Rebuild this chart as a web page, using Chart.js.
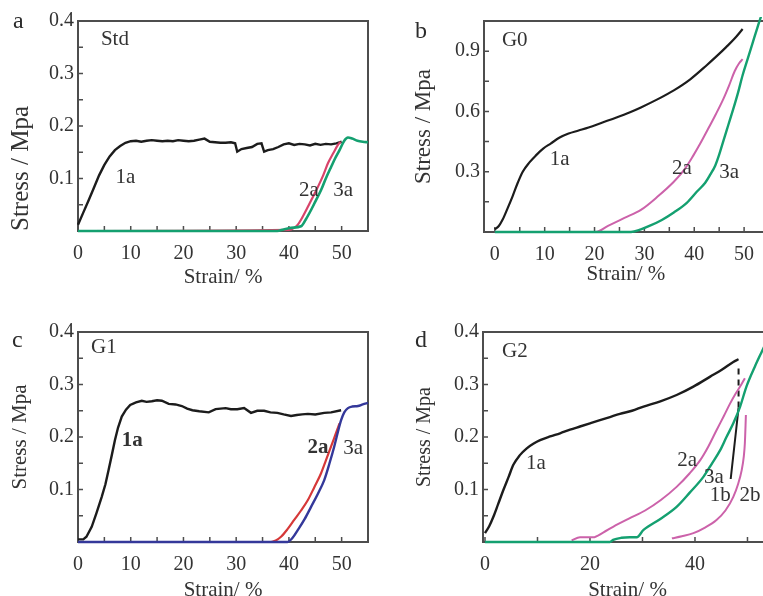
<!DOCTYPE html>
<html>
<head>
<meta charset="utf-8">
<script src="https://cdn.jsdelivr.net/npm/chart.js@4.4.1/dist/chart.umd.min.js"></script>
<style>
  html, body { margin: 0; padding: 0; width: 763px; height: 596px; overflow: hidden; background: #fff; }
  canvas { position: absolute; }
  .tag { position: absolute; font: 24px "Liberation Serif", serif; line-height: 24px; color: #2b2b2b; }
</style>
</head>
<body>
<canvas id="chartA" width="380" height="300" style="left:0;top:0"></canvas>
<canvas id="chartB" width="400" height="300" style="left:380px;top:0"></canvas>
<canvas id="chartC" width="380" height="300" style="left:0;top:311px"></canvas>
<canvas id="chartD" width="400" height="300" style="left:380px;top:311px"></canvas>
<div class="tag" style="left:13px;top:8px">a</div>
<div class="tag" style="left:415px;top:18px">b</div>
<div class="tag" style="left:12px;top:327px">c</div>
<div class="tag" style="left:415px;top:327px">d</div>
<script>
// ---- panel a : Std ----
const strainA1 = [0, 1, 2, 3, 4, 5, 6, 7, 8, 9, 10, 11, 12, 13, 14, 15, 16, 17, 18, 19, 20, 21, 22, 23, 24, 25, 26, 27, 28, 29, 29.8, 30.2, 31, 32, 33, 34, 34.8, 35.3, 36, 37, 38, 39, 40, 41, 42, 43, 44, 45, 46, 47, 48, 49, 50];
const stressA1 = [0.012, 0.035, 0.058, 0.082, 0.106, 0.126, 0.142, 0.154, 0.162, 0.168, 0.171, 0.172, 0.170, 0.172, 0.173, 0.172, 0.171, 0.172, 0.171, 0.173, 0.172, 0.171, 0.172, 0.174, 0.176, 0.170, 0.169, 0.168, 0.168, 0.169, 0.167, 0.151, 0.156, 0.158, 0.160, 0.166, 0.167, 0.151, 0.154, 0.156, 0.160, 0.165, 0.167, 0.164, 0.166, 0.165, 0.163, 0.166, 0.164, 0.166, 0.165, 0.167, 0.170];
const strainA2 = [0, 40, 41, 41.6, 42.5, 43.6, 44.5, 45.5, 46.5, 47.4, 48.4, 49.3, 49.8];
const stressA2 = [0, 0.002, 0.006, 0.011, 0.025, 0.046, 0.064, 0.084, 0.106, 0.129, 0.148, 0.164, 0.170];
const strainA3 = [0, 37.8, 39, 40.4, 42.3, 43.2, 44.2, 45.1, 46.1, 47, 48, 48.8, 49.6, 50.5, 51.2, 52, 53, 54, 55];
const stressA3 = [0, 0, 0.003, 0.006, 0.009, 0.022, 0.04, 0.058, 0.078, 0.1, 0.122, 0.139, 0.154, 0.172, 0.178, 0.176, 0.172, 0.170, 0.169];

// ---- panel b : G0 ----
const strainB1 = [0, 0.8, 1.6, 2.6, 3.6, 4.6, 5.6, 6.9, 8.2, 9.7, 11.2, 13, 14.8, 16.8, 18.8, 21.6, 24.4, 27, 29.3, 32.6, 35.9, 39.2, 42.5, 44.5, 46.4, 48, 49.7];
const stressB1 = [0.013, 0.03, 0.063, 0.12, 0.18, 0.245, 0.30, 0.345, 0.38, 0.415, 0.44, 0.47, 0.49, 0.505, 0.52, 0.545, 0.57, 0.595, 0.62, 0.66, 0.705, 0.76, 0.83, 0.875, 0.92, 0.96, 1.01];
const strainB2 = [0, 20.2, 22.7, 26, 29.3, 32.6, 35.9, 38, 39.8, 41.2, 42.5, 44.2, 45.8, 47, 48.1, 49, 49.7];
const stressB2 = [0, 0, 0.03, 0.07, 0.11, 0.175, 0.25, 0.31, 0.38, 0.44, 0.50, 0.58, 0.66, 0.73, 0.80, 0.84, 0.86];
const strainB3 = [0, 27.3, 29.3, 31, 33.5, 35.9, 38.5, 40.5, 42.2, 43.2, 44.2, 45, 45.8, 46.8, 47.8, 48.8, 49.7, 50.7, 51.7, 52.7, 53.5];
const stressB3 = [0, 0, 0.013, 0.03, 0.06, 0.097, 0.145, 0.20, 0.245, 0.285, 0.33, 0.385, 0.45, 0.53, 0.61, 0.695, 0.78, 0.86, 0.94, 1.02, 1.08];

// ---- panel c : G1 ----
const strainC1 = [0, 1, 1.6, 2.6, 3.5, 4.5, 5.2, 5.8, 6.4, 7, 7.6, 8.3, 9.1, 9.9, 11, 12.1, 13, 14, 15, 15.9, 17.2, 18.5, 19.7, 20.7, 21.7, 23, 24.8, 26.1, 28, 29, 30.2, 31.5, 32.8, 34, 35.3, 36.5, 37.8, 39, 40.4, 41.5, 42.5, 43.6, 45, 46.7, 48, 49.9];
const stressC1 = [0.005, 0.005, 0.01, 0.029, 0.055, 0.086, 0.11, 0.137, 0.165, 0.194, 0.218, 0.239, 0.252, 0.261, 0.266, 0.269, 0.267, 0.268, 0.27, 0.269, 0.263, 0.262, 0.259, 0.254, 0.251, 0.249, 0.247, 0.253, 0.255, 0.253, 0.253, 0.255, 0.246, 0.25, 0.25, 0.247, 0.246, 0.243, 0.24, 0.242, 0.243, 0.244, 0.243, 0.246, 0.247, 0.251];
const strainC2 = [0, 36.6, 37.5, 38.5, 39.7, 41, 42.3, 43.6, 44.8, 46.1, 47, 48, 48.8, 49.6];
const stressC2 = [0, 0, 0.003, 0.01, 0.024, 0.042, 0.06, 0.08, 0.104, 0.131, 0.155, 0.182, 0.204, 0.226];
const strainC3 = [0, 39.7, 40.7, 41.7, 43, 44.2, 45.5, 46.7, 47.7, 48.6, 49.3, 49.9, 50.5, 51.2, 52, 53.1, 54, 55];
const stressC3 = [0, 0, 0.008, 0.023, 0.044, 0.067, 0.092, 0.118, 0.15, 0.182, 0.21, 0.232, 0.247, 0.255, 0.258, 0.259, 0.262, 0.265];

// ---- panel d : G2 ----
const strainD1a = [0, 0.8, 1.6, 2.5, 3.5, 4.5, 5.4, 6.6, 7.9, 9.2, 10.5, 12.4, 14.3, 16.2, 18.1, 20, 21.9, 23.8, 25.7, 28, 30.2, 33.4, 36.5, 39.7, 42.9, 45.1, 47.3, 48.3];
const stressD1a = [0.017, 0.03, 0.048, 0.072, 0.099, 0.124, 0.147, 0.165, 0.178, 0.187, 0.194, 0.201, 0.207, 0.214, 0.22, 0.226, 0.232, 0.238, 0.244, 0.25, 0.258, 0.268, 0.28, 0.296, 0.315, 0.328, 0.343, 0.348];
const strainD1b = [46.8, 47.3, 47.8, 48.3, 48.3];
const stressD1b = [0.12, 0.165, 0.21, 0.256, 0.34];
const strainD2a = [16.5, 18.1, 20.6, 22.5, 24.4, 27.5, 30.5, 33.5, 36.5, 39, 41, 42.6, 44.1, 45.5, 46.7, 47.7, 48.6, 49.5];
const stressD2a = [0.003, 0.009, 0.009, 0.018, 0.029, 0.045, 0.06, 0.08, 0.105, 0.131, 0.156, 0.183, 0.213, 0.24, 0.264, 0.282, 0.296, 0.312];
const strainD2b = [35.6, 37.5, 39.7, 42, 44.1, 45.8, 47.3, 48.2, 48.9, 49.3, 49.5, 49.7];
const stressD2b = [0.007, 0.011, 0.017, 0.028, 0.042, 0.06, 0.086, 0.11, 0.137, 0.163, 0.188, 0.242];
const strainD3 = [0, 23.8, 24.4, 26, 27.6, 28.9, 30.2, 33.4, 36.5, 39, 41.6, 43.2, 44.8, 46, 47.3, 48.6, 49.8, 51.4, 52.7, 53.8];
const stressD3 = [0, 0, 0.004, 0.008, 0.009, 0.009, 0.023, 0.044, 0.067, 0.094, 0.124, 0.149, 0.175, 0.2, 0.226, 0.258, 0.296, 0.334, 0.362, 0.385];

// ---- ticks (all marks / labelled ones) ----
const xTicks55 = [0, 5, 10, 15, 20, 25, 30, 35, 40, 45, 50, 55];
const xLabels55 = [0, 10, 20, 30, 40, 50];
const xTicksD = [0, 10, 20, 30, 40, 50];
const xLabelsD = [0, 20, 40];
const yTicks04 = [0, 0.05, 0.1, 0.15, 0.2, 0.25, 0.3, 0.35, 0.4];
const yLabels04 = [0.1, 0.2, 0.3, 0.4];
const yTicksB = [0, 0.15, 0.3, 0.45, 0.6, 0.75, 0.9, 1.05];
const yLabelsB = [0.3, 0.6, 0.9];

const SERIF = '"Liberation Serif", "Times New Roman", serif';
const INK = '#333333';
const BLACK = '#1c1c1c';

function pts(xs, ys) {
    return xs.map((x, i) => ({ x: x, y: ys[i] }));
}

function line(xs, ys, color, width, extra) {
    return Object.assign({
        data: pts(xs, ys),
        borderColor: color,
        borderWidth: width,
        showLine: true,
        pointRadius: 0,
        cubicInterpolationMode: 'monotone',
        clip: 4,
        fill: false
    }, extra || {});
}

function makeChart(id, o) {
    // frame + inward tick marks under the curves, curve labels on top
    const frame = {
        id: 'frame',
        beforeDatasetsDraw(chart) {
            const { ctx, chartArea: a, scales } = chart;
            ctx.save();
            ctx.strokeStyle = '#4d4d4d';
            ctx.lineWidth = 1.5;
            ctx.beginPath();
            scales.x.ticks.forEach(t => {
                const p = scales.x.getPixelForValue(t.value);
                ctx.moveTo(p, a.bottom);
                ctx.lineTo(p, a.bottom - 5);
            });
            scales.y.ticks.forEach(t => {
                const p = scales.y.getPixelForValue(t.value);
                ctx.moveTo(a.left, p);
                ctx.lineTo(a.left + 5, p);
            });
            ctx.stroke();
            ctx.lineWidth = 2;
            ctx.strokeRect(a.left, a.top, a.right - a.left, a.bottom - a.top);
            ctx.restore();
        },
        afterDatasetsDraw(chart) {
            const { ctx, scales } = chart;
            ctx.save();
            ctx.fillStyle = INK;
            ctx.textAlign = 'center';
            ctx.textBaseline = 'middle';
            o.notes.forEach(n => {
                ctx.font = (n.bold ? 'bold ' : '') + n.size + 'px ' + SERIF;
                ctx.fillText(n.text, scales.x.getPixelForValue(n.x), scales.y.getPixelForValue(n.y));
            });
            ctx.restore();
        }
    };

    return new Chart(document.getElementById(id), {
        type: 'scatter',
        data: { datasets: o.datasets },
        options: {
            responsive: false,
            animation: false,
            devicePixelRatio: 1,
            layout: { padding: { top: 21, right: o.padRight, left: 0, bottom: 0 } },
            plugins: { legend: { display: false }, tooltip: { enabled: false } },
            scales: {
                x: {
                    type: 'linear',
                    min: o.xMin,
                    max: o.xMax,
                    afterBuildTicks: s => { s.ticks = o.xTicks.map(v => ({ value: v })); },
                    afterFit: s => { s.height = o.xH; },
                    grid: { display: false, drawTicks: false },
                    border: { display: false },
                    ticks: {
                        autoSkip: false,
                        maxRotation: 0,
                        padding: 11,
                        color: INK,
                        font: { family: SERIF, size: 20 },
                        callback: v => o.xLabels.includes(v) ? String(v) : ''
                    },
                    title: {
                        display: true,
                        text: 'Strain/ %',
                        color: INK,
                        font: { family: SERIF, size: 21 },
                        padding: { top: 0, bottom: o.xTitlePad }
                    }
                },
                y: {
                    type: 'linear',
                    min: 0,
                    max: o.yMax,
                    afterBuildTicks: s => { s.ticks = o.yTicks.map(v => ({ value: v })); },
                    afterFit: s => { s.width = o.yW; },
                    grid: { display: false, drawTicks: false },
                    border: { display: false },
                    ticks: {
                        autoSkip: false,
                        padding: 4,
                        color: INK,
                        font: { family: SERIF, size: 20 },
                        callback: v => o.yLabels.includes(v) ? String(v) : ''
                    },
                    title: {
                        display: true,
                        text: 'Stress / Mpa',
                        align: o.yAlign || 'center',
                        color: INK,
                        font: { family: SERIF, size: o.yTitleSize },
                        padding: { top: o.yTitlePad, bottom: 0 }
                    }
                }
            }
        },
        plugins: [frame]
    });
}

const RED_A = '#d8436a', GREEN = '#14a070', PINK = '#cc62aa', RED_C = '#d63838', BLUE = '#34389a';

makeChart('chartA', {
    datasets: [
        line(strainA3, stressA3, GREEN, 2.6),
        line(strainA2, stressA2, RED_A, 2.2),
        line(strainA1, stressA1, BLACK, 2.4, { cubicInterpolationMode: 'default', tension: 0 })
    ],
    xMin: 0, xMax: 55, xTicks: xTicks55, xLabels: xLabels55,
    yMax: 0.4, yTicks: yTicks04, yLabels: yLabels04,
    yW: 78, xH: 69, padRight: 12, xTitlePad: 10,
    yTitleSize: 25, yTitlePad: 6, yAlign: 'start',
    notes: [
        { text: 'Std', x: 7.0, y: 0.364, size: 21 },
        { text: '1a', x: 9.0, y: 0.101, size: 21 },
        { text: '2a', x: 43.8, y: 0.078, size: 21 },
        { text: '3a', x: 50.3, y: 0.078, size: 21 }
    ]
});

makeChart('chartB', {
    datasets: [
        line(strainB3, stressB3, GREEN, 2.4),
        line(strainB2, stressB2, PINK, 2),
        line(strainB1, stressB1, BLACK, 2.2)
    ],
    xMin: -2.17, xMax: 54.74, xTicks: xTicks55, xLabels: xLabels55,
    yMax: 1.05, yTicks: yTicksB, yLabels: yLabelsB,
    yW: 104, xH: 68, padRight: 8, xTitlePad: 13,
    yTitleSize: 23, yTitlePad: 30,
    notes: [
        { text: 'G0', x: 4.0, y: 0.955, size: 21 },
        { text: '1a', x: 13.0, y: 0.36, size: 21 },
        { text: '2a', x: 37.5, y: 0.315, size: 21 },
        { text: '3a', x: 47.0, y: 0.295, size: 21 }
    ]
});

makeChart('chartC', {
    datasets: [
        line(strainC3, stressC3, BLUE, 2.4),
        line(strainC2, stressC2, RED_C, 2.2),
        line(strainC1, stressC1, BLACK, 2.4, { cubicInterpolationMode: 'default', tension: 0 })
    ],
    xMin: 0, xMax: 55, xTicks: xTicks55, xLabels: xLabels55,
    yMax: 0.4, yTicks: yTicks04, yLabels: yLabels04,
    yW: 78, xH: 69, padRight: 12, xTitlePad: 8,
    yTitleSize: 21, yTitlePad: 8,
    notes: [
        { text: 'G1', x: 4.9, y: 0.37, size: 21 },
        { text: '1a', x: 10.3, y: 0.194, size: 21, bold: true },
        { text: '2a', x: 45.5, y: 0.179, size: 21, bold: true },
        { text: '3a', x: 52.2, y: 0.179, size: 21 }
    ]
});

makeChart('chartD', {
    datasets: [
        line(strainD3, stressD3, GREEN, 2.4),
        line(strainD2a, stressD2a, PINK, 2),
        line(strainD2b, stressD2b, PINK, 2),
        line(strainD1b, stressD1b, BLACK, 2, {
            cubicInterpolationMode: 'default',
            tension: 0,
            segment: { borderDash: c => c.p0DataIndex === 3 ? [6, 5] : undefined }
        }),
        line(strainD1a, stressD1a, BLACK, 2.4)
    ],
    xMin: -0.38, xMax: 54.67, xTicks: xTicksD, xLabels: xLabelsD,
    yMax: 0.4, yTicks: yTicks04, yLabels: yLabels04,
    yW: 103, xH: 69, padRight: 8, xTitlePad: 8,
    yTitleSize: 20, yTitlePad: 33,
    notes: [
        { text: 'G2', x: 5.7, y: 0.362, size: 21 },
        { text: '1a', x: 9.7, y: 0.149, size: 21 },
        { text: '2a', x: 38.5, y: 0.156, size: 21 },
        { text: '3a', x: 43.6, y: 0.122, size: 21 },
        { text: '1b', x: 44.8, y: 0.088, size: 21 },
        { text: '2b', x: 50.5, y: 0.088, size: 21 }
    ]
});
</script>
</body>
</html>
